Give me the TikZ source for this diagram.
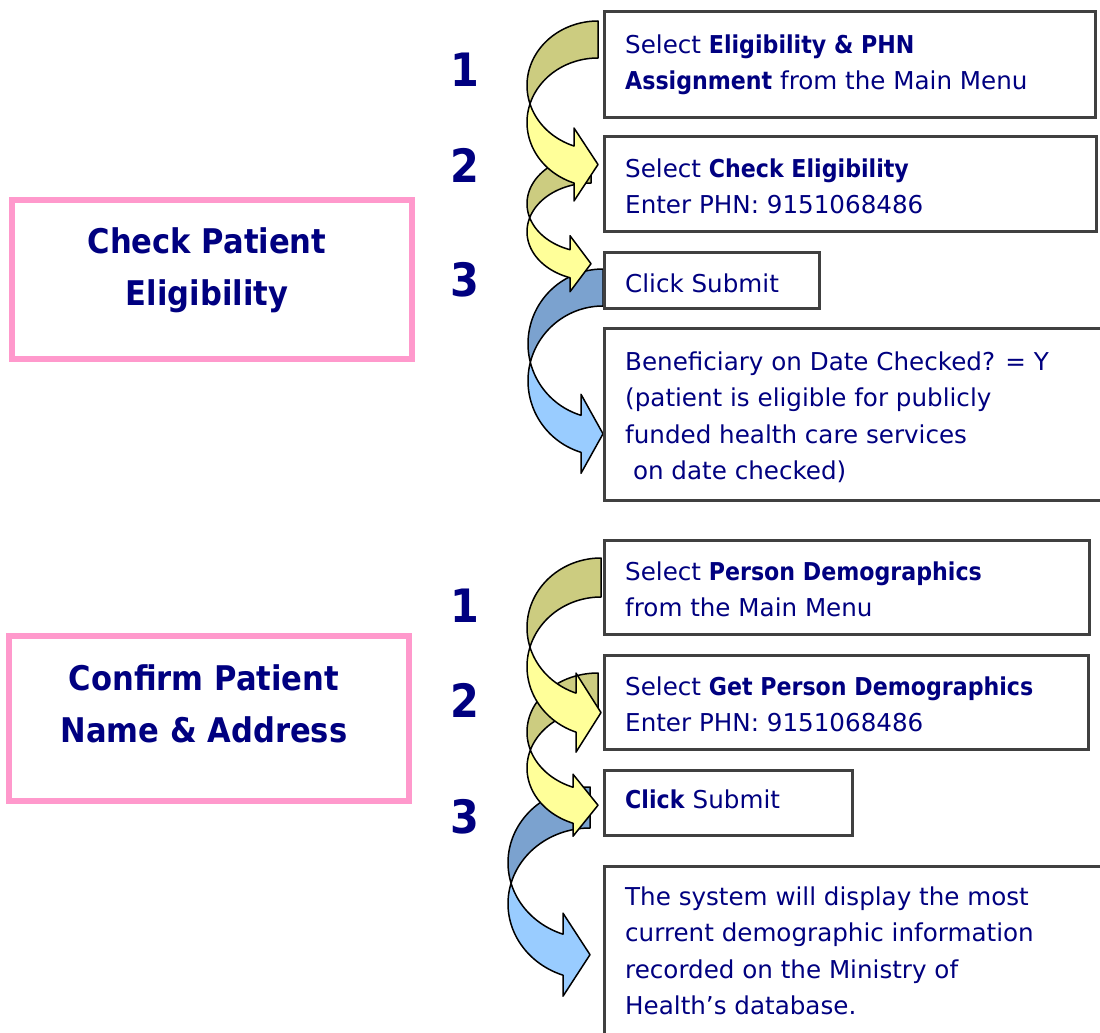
\documentclass[tikz,border=0pt]{standalone}
\usepackage{fontspec}
\setmainfont{DejaVu Sans}[BoldFeatures={FakeStretch=0.9}]
\usetikzlibrary{calc}
\definecolor{navy}{HTML}{000080}
\definecolor{pinkline}{HTML}{FF99CC}
\definecolor{boxline}{HTML}{404040}
\definecolor{oliveback}{HTML}{CCCC80}
\definecolor{yellowfront}{HTML}{FFFF99}
\definecolor{blueback}{HTML}{7BA2CF}
\definecolor{bluefront}{HTML}{99CCFF}
\newcommand{\fstrut}{\rule{0pt}{20pt}}
\newcommand{\tstrut}{\rule{0pt}{28pt}}
% #1 R (tail right x), #2 tail top y, #3 thickness, #4 rx, #5 ry, #6 head base x, #7 barb ext, #8 back, #9 front
\newcommand{\flowarrow}[9]{%
  \begingroup
  \pgfmathsetmacro{\caA}{#2+#5}%
  \pgfmathsetmacro{\caB}{#2+#5+#3}%
  \pgfmathsetmacro{\caTA}{180-asin(#3/(2*#5))}%
  \pgfmathsetmacro{\caTB}{180+asin(#3/(2*#5))}%
  \pgfmathsetmacro{\caTH}{acos((#6-#1)/#4)}%
  \pgfmathsetmacro{\caYU}{\caA+#5*sin(\caTH)}%
  \pgfmathsetmacro{\caYL}{\caB+#5*sin(\caTH)}%
  \pgfmathsetmacro{\caYT}{(\caYU+\caYL)/2}%
  \filldraw[arrowline, fill=#8]
    plot[domain=270:\caTA, samples=50, variable=\angl] ({#1+#4*cos(\angl)},{\caA+#5*sin(\angl)})
    -- plot[domain=\caTB:270, samples=50, variable=\angl] ({#1+#4*cos(\angl)},{\caB+#5*sin(\angl)})
    -- cycle;
  \filldraw[arrowline, fill=#9]
    plot[domain=\caTB:\caTH, samples=50, variable=\angl] ({#1+#4*cos(\angl)},{\caB+#5*sin(\angl)})
    -- (#6,\caYL+#7) -- (#1,\caYT) -- (#6,\caYU-#7) -- (#6,\caYU)
    -- plot[domain=\caTH:\caTA, samples=50, variable=\angl] ({#1+#4*cos(\angl)},{\caA+#5*sin(\angl)})
    -- cycle;
  \endgroup
}
\begin{document}
\begin{tikzpicture}[x=1pt,y=-1pt,
  stepbox/.style={draw=boxline, line width=3pt, fill=white, rectangle, inner sep=0pt, outer sep=0pt, anchor=north west},
  titlebox/.style={draw=pinkline, line width=6pt, fill=white, rectangle, inner sep=0pt, outer sep=0pt, anchor=north west},
  boxtext/.style={text=navy, font=\fontsize{24.6}{36.5}\selectfont, align=left, inner sep=0pt, anchor=north west},
  titletext/.style={text=navy, font=\fontsize{34}{52}\selectfont\bfseries, align=center, inner sep=0pt, anchor=north},
  stepnum/.style={text=navy, font=\fontsize{46}{46}\selectfont\bfseries, inner sep=0pt, anchor=base},
  arrowline/.style={draw=black, line width=1.5pt, line join=round}]
\useasboundingbox (0,0) rectangle (1100,1033);
\fill[white] (0,0) rectangle (1100,1033);
\clip (0,0) rectangle (1100,1033);

% curved arrows (drawn bottom-up so upper heads lie on top)
\flowarrow{590}{787}{41}{82}{75.7}{563}{21}{blueback}{bluefront}
\flowarrow{598}{673}{36}{71}{59}{573}{13}{oliveback}{yellowfront}
\flowarrow{601}{558}{39}{74}{69.6}{576}{20}{oliveback}{yellowfront}
\flowarrow{603}{269}{37}{75}{74.8}{581}{21}{blueback}{bluefront}
\flowarrow{591}{155}{28}{64}{48.7}{570}{14}{oliveback}{yellowfront}
\flowarrow{598}{21}{37}{71}{64.4}{574}{18}{oliveback}{yellowfront}

% title boxes
\node[titlebox, minimum width=400, minimum height=159] (p1) at (12,200) {};
\node[titlebox, minimum width=400, minimum height=165] (p2) at (9,636) {};
\node[titletext] (p1t) at (207,225) {\tstrut Check Patient\\Eligibility};
\node[titletext] (p2t) at (204,662) {\tstrut Confirm Patient\\Name \& Address};

% step numbers
\node[stepnum] (n1) at (465,86) {1};
\node[stepnum] (n2) at (465,182) {2};
\node[stepnum] (n3) at (465,296) {3};
\node[stepnum] (m1) at (465,622) {1};
\node[stepnum] (m2) at (465,717) {2};
\node[stepnum] (m3) at (465,833) {3};

% step boxes, upper section
\node[stepbox, minimum width=491, minimum height=105] (b1) at (604,12) {};
\node[stepbox, minimum width=492, minimum height=94.5] (b2) at (604,136.5) {};
\node[stepbox, minimum width=214.5, minimum height=56] (b3) at (604.5,252) {};
\node[stepbox, minimum width=510, minimum height=172] (b4) at (604.5,328.5) {};
\node[boxtext] (b1t) at (625,33) {\fstrut Select \textbf{Eligibility \& PHN}\\\textbf{Assignment} from the Main Menu};
\node[boxtext] (b2t) at (625,157) {\fstrut Select \textbf{Check Eligibility}\\Enter PHN: 9151068486};
\node[boxtext] (b3t) at (625,272) {\fstrut Click Submit};
\node[boxtext] (b4t) at (625,350) {\fstrut Beneficiary on Date Checked? = Y\\(patient is eligible for publicly\\funded health care services\\\ on date checked)};

% step boxes, lower section
\node[stepbox, minimum width=485, minimum height=94] (c1) at (604,540.5) {};
\node[stepbox, minimum width=484, minimum height=94] (c2) at (604,655.5) {};
\node[stepbox, minimum width=248.5, minimum height=65] (c3) at (604,770.5) {};
\node[stepbox, minimum width=510, minimum height=200] (c4) at (604,866.5) {};
\node[boxtext] (c1t) at (625,560) {\fstrut Select \textbf{Person Demographics}\\from the Main Menu};
\node[boxtext] (c2t) at (625,675) {\fstrut Select \textbf{Get Person Demographics}\\Enter PHN: 9151068486};
\node[boxtext] (c3t) at (625,788) {\fstrut\textbf{Click} Submit};
\node[boxtext] (c4t) at (625,885) {\fstrut The system will display the most\\current demographic information\\recorded on the Ministry of\\Health’s database.};
\end{tikzpicture}
\end{document}
